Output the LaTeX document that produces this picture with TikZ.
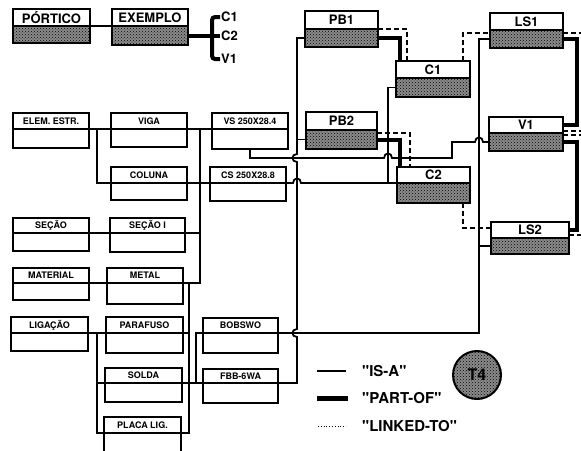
\documentclass[tikz,border=0pt]{standalone}
\usepackage{fontspec}
\setmainfont{TeX Gyre Heros}
\usetikzlibrary{patterns,calc}

\tikzset{
  boxhd/.style={draw, line width=1.8pt, fill=white, inner sep=0pt, outer sep=0pt, anchor=north west, font=\fontsize{9}{9}\selectfont\bfseries},
  boxbd/.style={draw, line width=1.8pt, fill=white, inner sep=0pt, outer sep=0pt, anchor=north west},
  objhd/.style={boxhd, line width=2.2pt, font=\fontsize{13}{13}\selectfont\bfseries},
  objbd/.style={boxbd, line width=2.2pt, fill=black!45, postaction={pattern=crosshatch dots, pattern color=black}},
  isa/.style={line width=1.8pt},
  partof/.style={line width=4pt},
  linked/.style={line width=1.5pt, dash pattern=on 5pt off 3pt},
  legtxt/.style={anchor=west, inner sep=0pt, font=\fontsize{15}{15}\selectfont\bfseries},
  brlabel/.style={anchor=west, inner sep=1pt, font=\fontsize{13}{13}\selectfont\bfseries},
}

\begin{document}
\begin{tikzpicture}[x=1pt,y=-1pt]
\useasboundingbox (0,0) rectangle (581,450);

% classes
\foreach \n/\px/\py/\w/\ha/\hb/\t in {
  elem/13/113/76/16/19/ELEM. ESTR., viga/111/113/76/16/18/VIGA, vs/212/113/76/16/20/VS 250X28.4,
  col/111/167/76/16/17/COLUNA, cs/210/167/76/16/18/CS 250X28.8,
  sec/13/218/76/15/18/SEÇÃO, seci/110/218/75/15/19/SEÇÃO I,
  mat/13/268/76/15/17/MATERIAL, met/107/268/76/15/21/METAL,
  lig/11/317/77/16/18/LIGAÇÃO, par/106/317/77/16/20/PARAFUSO,
  sol/105/368/77/15/19/SOLDA, pla/104/417/77/16/20/PLACA LIG.,
  bob/203/318/75/15/20/BOBSWO, fbb/203/369/75/14/20/FBB-6WA}
{
  \node[boxhd, minimum width=\w pt, minimum height=\ha pt] (\n) at (\px,\py) {\t};
  \node[boxbd, minimum width=\w pt, minimum height=\hb pt] (\n-b) at (\n.south west) {};
}

% objects
\foreach \n/\px/\py/\w/\ha/\hb/\t in {
  por/13/9/77/17/17/PÓRTICO, exe/112/9/76/17/19/EXEMPLO,
  pb1/305/11/73/18/18/PB1, c1/396/61/74/17/19/C1, ls1/490/13/73/17/18/LS1,
  pb2/306/112/71/18/19/PB2, c2/397/167/73/16/20/C2, v1/489/117/74/16/18/V1,
  ls2/491/222/78/16/16/LS2}
{
  \node[objhd, minimum width=\w pt, minimum height=\ha pt] (\n) at (\px,\py) {\t};
  \node[objbd, minimum width=\w pt, minimum height=\hb pt] (\n-b) at (\n.south west) {};
}

\node[brlabel] (lc1) at (220,17) {C1};
\node[brlabel] (lc2) at (220,35.5) {C2};
\node[brlabel] (lv1) at (220,59) {V1};

\coordinate (vE) at (97,0);
\coordinate (vM) at (189,0);
\coordinate (vS) at (196,0);
\coordinate (vV) at (200,0);
\coordinate (vF) at (297,0);
\coordinate (vC) at (388,0);
\coordinate (vT) at (452,0);
\coordinate (vB) at (479,0);
\coordinate (yV) at (0,158);

% is-a
\draw[isa] (por.south east) -- (exe.south west);
\draw[isa] (elem.south east) -- (viga.south west);
\draw[isa] (elem.south east -| vE) |- (col.south west);
\draw[isa] (viga.south east) -- (vs.south west);
\draw[isa] (viga.south east -| vV) |- (met.south east);
\draw[isa] (seci.south east) -- (seci.south east -| vV);
\draw[isa] (sec.south east) -- (seci.south west);
\draw[isa] (mat.south east) -- (met.south west);
\draw[isa] (col.south east) -- (cs.south west);
\draw[isa] (lig.south east) -- (par.south west);
\draw[isa] (lig.south east -| vE) |- (pla.south west);
\draw[isa] (sol.south west -| vE) -- (sol.south west);
\draw[isa] (met.south east -| vM) |- (pla.south east);
\draw[isa] (par.south east) -- (par.south east -| vM);
\draw[isa] (sol.south east) -- (fbb.south west);
\draw[isa] (bob.south west) -| (sol.south east -| vS);
\draw[isa] (fbb.south east) -- (fbb.south east -| vF)
  -- ($(vF |- bob.south east)+(0,4)$) .. controls +(-6,0) and +(-6,0) .. ($(vF |- bob.south east)+(0,-4)$)
  -- ($(vF |- yV)+(0,4)$) .. controls +(-6,0) and +(-6,0) .. ($(vF |- yV)+(0,-4)$)
  |- (pb1-b.west);
\draw[isa] (pb2-b.west) -- (pb2-b.west -| vF);
\draw[isa] (vs-b.south) |- ($(yV -| vC)+(-4,0)$) .. controls +(0,-6) and +(0,-6) .. ($(yV -| vC)+(4,0)$)
  -- (yV -| vT) |- ($(vB |- v1-b.west)+(-4,0)$) .. controls +(0,-6) and +(0,-6) .. ($(vB |- v1-b.west)+(4,0)$)
  -- (v1-b.west);
\draw[isa] (cs.south east) -- ($(vF |- cs.south east)+(-4,0)$) .. controls +(0,-6) and +(0,-6) .. ($(vF |- cs.south east)+(4,0)$)
  -- (c2.south west);
\draw[isa] (c1-b.west) -| (vC |- c2.south west);
\draw[isa] (bob.south east) -| (ls1-b.west -| vB) -- (ls1-b.west);
\draw[isa] (ls2-b.west) -- (ls2-b.west -| vB);

% part-of
\draw[partof] (exe-b.east) -- (lc2.west);
\draw[partof, rounded corners=3pt] (lc1.west) -- ++(-8,0) |- (lv1.west);
\draw[partof] (pb1-b.east) -| ([xshift=4pt]c1.north west);
\draw[partof] (pb2-b.east) -| ([xshift=3pt]c2.north west);
\draw[partof] (ls1-b.east) -- ++(14,0) |- (v1.east);
\draw[partof] (v1-b.east) -- ++(14,0) |- (ls2.east);

% linked-to
\draw[linked] (pb1.south east) -| ([xshift=11pt]c1.north west);
\draw[linked] ([yshift=-3pt]pb2.south east) -| ([xshift=13pt]c2.north west);
\draw[linked] ([xshift=-7pt]c1.north east) |- ([yshift=-3pt]ls1.south west);
\draw[linked] ([xshift=-7pt]c2-b.south east) |- ([yshift=-6pt]ls2.north west);
\draw[linked] ([yshift=-3pt]ls1.south east) -- ++(20,0);
\draw[linked] ([yshift=2pt]v1.south east) -- ++(20,0);
\draw[linked] ([yshift=-2pt]v1.south east) -- ++(20,0);
\draw[linked] ([yshift=3pt]ls2.south east) -- ++(14,0);

% legend
\node[legtxt] (lisa) at (362,371) {\textquotedbl IS-A\textquotedbl};
\node[legtxt] (lpart) at (362,398) {\textquotedbl PART-OF\textquotedbl};
\node[legtxt] (llink) at (362,426) {\textquotedbl LINKED-TO\textquotedbl};
\draw[isa] ([xshift=-45pt]lisa.west) -- ([xshift=-16pt]lisa.west);
\draw[partof, line width=5pt] ([xshift=-45pt]lpart.west) -- ([xshift=-14pt]lpart.west);
\draw[line width=0.8pt, dotted] ([xshift=-44pt]llink.west) -- ([xshift=-16pt]llink.west);
\node[circle, draw, line width=2pt, minimum size=48pt, fill=black!45, postaction={pattern=crosshatch dots},
  font=\fontsize{16}{16}\selectfont\bfseries] (t4) at (477,375) {T4};
\end{tikzpicture}
\end{document}
